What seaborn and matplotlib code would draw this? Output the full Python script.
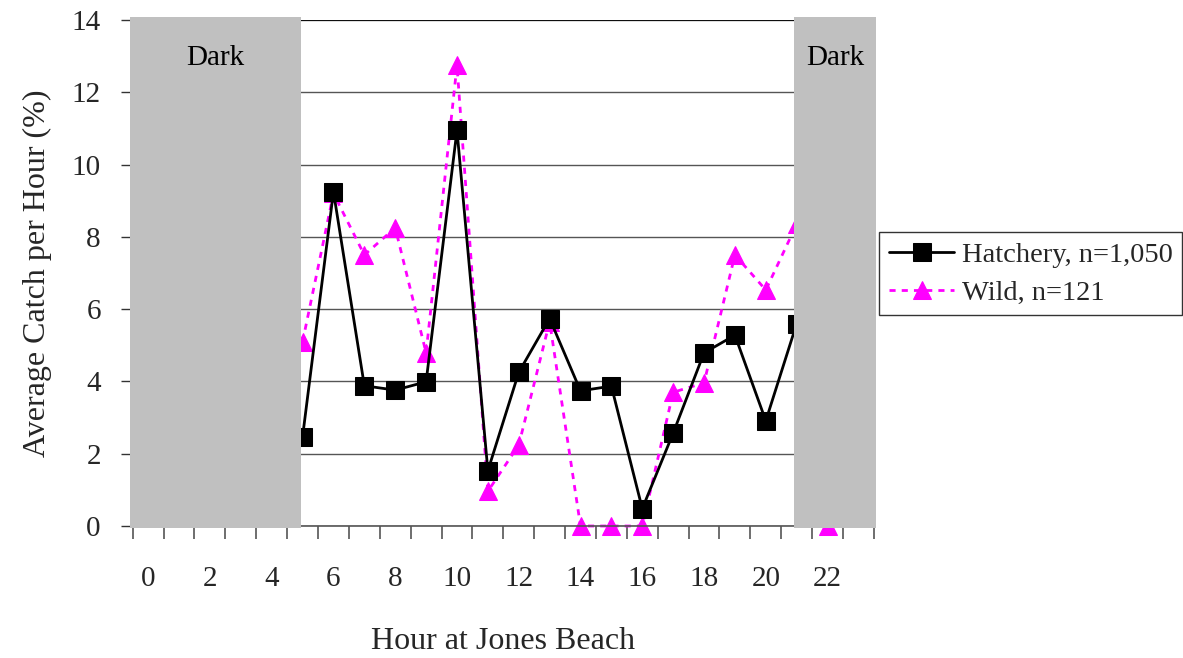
import matplotlib
matplotlib.use("Agg")
import matplotlib.pyplot as plt
import seaborn as sns
import pandas as pd
import numpy as np
from matplotlib.ticker import FixedLocator

hours = [5, 6, 7, 8, 9, 10, 11, 12, 13, 14, 15, 16, 17, 18, 19, 20, 21, 22]
hatchery = [2.47, 9.25, 3.88, 3.76, 3.99, 10.95, 1.53, 4.25, 5.74, 3.74, 3.87, 0.48,
            2.57, 4.79, 5.28, 2.91, 5.6, np.nan]
wild = [5.1, 9.2, 7.5, 8.25, 4.79, 12.75, 0.96, 2.24, 5.65, 0.0, 0.0, 0.0,
        3.7, 3.96, 7.5, 6.53, 8.35, 0.0]
dark_periods = [(-0.58, 4.95), (20.9, 23.58)]
dark_label = "Dark"
xtick_labels = [str(h) for h in range(0, 23, 2)]
series_names = ["Hatchery, n=1,050", "Wild, n=121"]

sns.set_style("white")
plt.rcParams['font.family'] = ['Liberation Serif', 'DejaVu Serif']

fig = plt.figure(figsize=(11.83, 6.58), dpi=100)
ax = fig.add_axes([0.1122, 0.2006, 0.6265, 0.7690])

df = pd.DataFrame({"hour": hours, "Hatchery": hatchery, "Wild": wild})

sns.lineplot(data=df, x="hour", y="Hatchery", ax=ax, color="black", linewidth=2.0,
             marker="s", markersize=13, markeredgecolor="black", markerfacecolor="black",
             label=series_names[0], zorder=3, clip_on=False)
sns.lineplot(data=df, x="hour", y="Wild", ax=ax, color="#FF00FF", linewidth=2.0,
             marker="^", markersize=13, markeredgecolor="#FF00FF", markerfacecolor="#FF00FF",
             label=series_names[1], zorder=2, clip_on=False)
ax.lines[1].set_dashes([2.2, 2.2])

for (x0, x1) in dark_periods:
    ax.fill_between([x0, x1], [-0.06, -0.06], [14.07, 14.07], color="#C0C0C0",
                    zorder=5, clip_on=False, linewidth=0)
    ax.text((x0 + x1) / 2, 12.95, dark_label, ha="center", va="center", fontsize=21,
            zorder=6, color="black")

ax.set_xlim(-0.5, 23.5)
ax.set_ylim(0, 14)
ax.set_yticks(range(0, 15, 2))
ax.set_yticklabels([str(v) for v in range(0, 15, 2)])
ax.set_xticks(range(0, 23, 2))
ax.set_xticklabels(xtick_labels)
ax.xaxis.set_minor_locator(FixedLocator(np.arange(-0.5, 24, 1)))
ax.tick_params(axis="x", which="both", bottom=True)
ax.tick_params(axis="y", which="major", left=True)
ax.tick_params(axis="x", which="major", length=0, pad=29, labelsize=21)
ax.tick_params(axis="x", which="minor", length=9, width=1.2, color="#555555", direction="out")
ax.tick_params(axis="y", which="major", length=9, width=1.0, color="#333333",
               direction="out", labelsize=21, pad=14)

ax.grid(axis="y", color="#555555", linewidth=1.0, zorder=0)
ax.set_axisbelow(True)
for s in ["left", "right", "top"]:
    ax.spines[s].set_visible(False)
ax.spines["bottom"].set_color("#555555")
ax.spines["bottom"].set_linewidth(1.2)
ax.axhline(14, color="black", linewidth=1.2, zorder=1)

ax.set_xlabel("Hour at Jones Beach", fontsize=23, labelpad=25)
ax.set_ylabel("Average Catch per Hour (%)", fontsize=23, labelpad=14)

leg = ax.legend(loc="upper left", bbox_to_anchor=(0.743, 0.647), bbox_transform=fig.transFigure,
                fontsize=20.5, frameon=True, fancybox=False, edgecolor="black",
                handlelength=2.3, handletextpad=0.25, borderpad=0.35, labelspacing=0.4,
                borderaxespad=0)
leg.get_frame().set_linewidth(1.0)
leg.get_frame().set_facecolor("white")

fig.savefig("out.png", dpi=100)
